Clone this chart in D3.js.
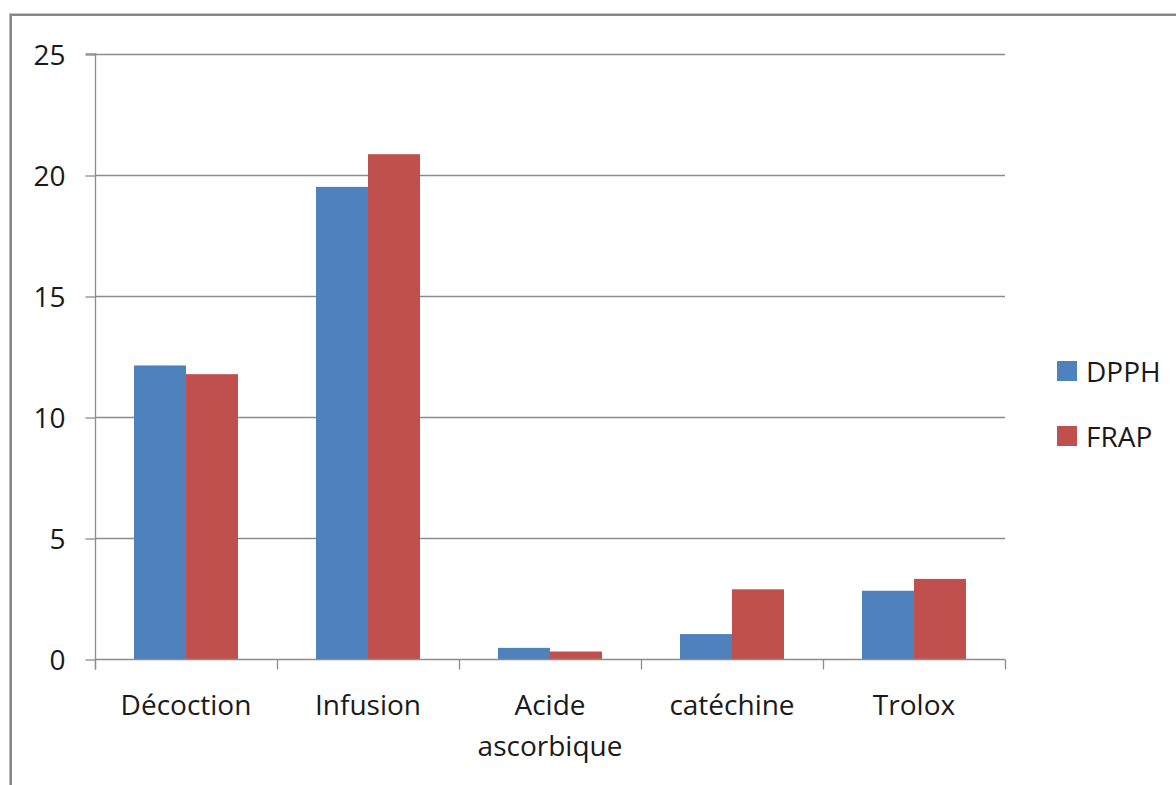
<!DOCTYPE html>
<html>
<head>
<meta charset="utf-8">
<script src="https://cdn.jsdelivr.net/npm/d3@7"></script>
<style>
  html, body { margin: 0; padding: 0; background: #ffffff; }
  svg { display: block; }
  text { font-family: "Open Sans", "Noto Sans", sans-serif; fill: #1a1a1a; }
</style>
</head>
<body>
<svg id="chart" width="1176" height="785"></svg>
<script>
// Antioxidant activity by extract / reference compound
const categories = [["Décoction"], ["Infusion"], ["Acide", "ascorbique"], ["catéchine"], ["Trolox"]];
const seriesNames = ["DPPH", "FRAP"];
const dpphValues = [12.13, 19.51, 0.46, 1.03, 2.82];
const frapValues = [11.77, 20.86, 0.31, 2.88, 3.31];
const yTicks = [0, 5, 10, 15, 20, 25];
const seriesColors = ["#4F81BD", "#C0504D"];

const svg = d3.select("#chart");
const W = 1176, H = 785;
const plot = { left: 95, right: 1005, top: 54, bottom: 659 };

const catKeys = categories.map(c => c.join(" "));
const rows = catKeys.map((k, i) => ({ key: k, lines: categories[i], values: [dpphValues[i], frapValues[i]] }));

const x0 = d3.scaleBand().domain(catKeys).range([plot.left, plot.right]).paddingInner(0).paddingOuter(0);
const groupPad = x0.bandwidth() * 39 / 182;
const x1 = d3.scaleBand().domain(seriesNames).range([groupPad, x0.bandwidth() - groupPad]).padding(0);
const y = d3.scaleLinear().domain([0, 25]).range([plot.bottom, plot.top]);

// Outer frame (top and left edges)
svg.append("path")
  .attr("d", `M10.7,${H} L10.7,14.7 L${W},14.7`)
  .attr("fill", "none")
  .attr("stroke", "#878787")
  .attr("stroke-width", 2.6);

// Horizontal gridlines
svg.append("g").selectAll("line").data(yTicks.filter(t => t > 0)).join("line")
  .attr("x1", plot.left).attr("x2", plot.right)
  .attr("y1", d => y(d) + 0.5).attr("y2", d => y(d) + 0.5)
  .attr("stroke", "#8c8c8c").attr("stroke-width", 1.3);

// Bars
const groups = svg.append("g").selectAll("g").data(rows).join("g")
  .attr("transform", d => `translate(${x0(d.key)},0)`);
groups.selectAll("rect").data(d => d.values.map((v, i) => ({ s: seriesNames[i], v, i }))).join("rect")
  .attr("x", d => x1(d.s))
  .attr("width", x1.bandwidth())
  .attr("y", d => y(d.v))
  .attr("height", d => y(0) - y(d.v))
  .attr("fill", d => seriesColors[d.i]);

// Y axis
const yAxis = d3.axisLeft(y).tickValues(yTicks).tickSize(10).tickPadding(20).tickFormat(d3.format("d"));
const gy = svg.append("g").attr("transform", `translate(${plot.left + 0.5},0.5)`).call(yAxis);
gy.select(".domain").attr("stroke", "#8c8c8c").attr("stroke-width", 1.3)
  .attr("d", `M-10,${plot.top - 0.5}H0V${plot.bottom + 10}`);
gy.selectAll(".tick line").attr("stroke", "#8c8c8c").attr("stroke-width", 1.3);
gy.selectAll(".tick text").attr("font-size", 28).attr("fill", "#1a1a1a")
  .attr("font-family", "'Open Sans', sans-serif").attr("dy", "0.36em");

// X axis
const xAxis = d3.axisBottom(x0).tickSize(0).tickFormat("");
const gx = svg.append("g").attr("transform", `translate(0,${plot.bottom + 0.5})`).call(xAxis);
gx.select(".domain").attr("stroke", "#8c8c8c").attr("stroke-width", 1.3)
  .attr("d", `M${plot.left},0H${plot.right}`);
// Category boundary ticks
const boundaries = catKeys.map(k => x0(k)).concat([plot.right]);
gx.append("g").selectAll("line").data(boundaries).join("line")
  .attr("x1", d => d + 0.5).attr("x2", d => d + 0.5)
  .attr("y1", 0).attr("y2", 10)
  .attr("stroke", "#8c8c8c").attr("stroke-width", 1.3);

// Category labels
const labels = svg.append("g").selectAll("text").data(rows).join("text")
  .attr("x", d => x0(d.key) + x0.bandwidth() / 2)
  .attr("y", 715)
  .attr("text-anchor", "middle")
  .attr("font-size", 28);
labels.selectAll("tspan").data(d => d.lines).join("tspan")
  .attr("x", function () { return d3.select(this.parentNode).attr("x"); })
  .attr("dy", (d, i) => i === 0 ? 0 : 41)
  .text(d => d);

// Legend
const legend = svg.append("g").selectAll("g").data(seriesNames).join("g")
  .attr("transform", (d, i) => `translate(1057,${361 + i * 65})`);
legend.append("rect").attr("width", 20).attr("height", 20)
  .attr("fill", (d, i) => seriesColors[i]);
legend.append("text").attr("x", 29).attr("y", 21)
  .attr("font-size", 28).text(d => d);
</script>
</body>
</html>
